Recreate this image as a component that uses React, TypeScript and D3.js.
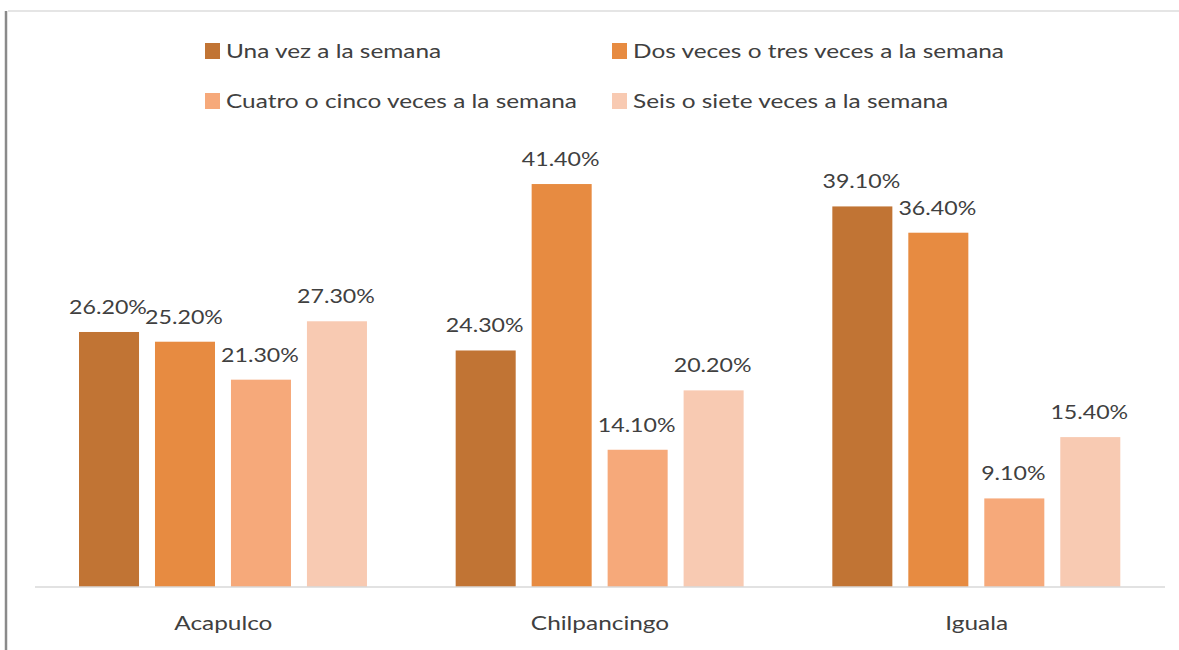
import React from 'react';
import * as d3 from 'd3';

const WIDTH = 1179;
const HEIGHT = 650;

const CATEGORIES = ['Acapulco', 'Chilpancingo', 'Iguala'];
const SERIES = [
  'Una vez a la semana',
  'Dos veces o tres veces a la semana',
  'Cuatro o cinco veces a la semana',
  'Seis o siete veces a la semana',
];
const UNA_VEZ = [26.2, 24.3, 39.1];
const DOS_TRES = [25.2, 41.4, 36.4];
const CUATRO_CINCO = [21.3, 14.1, 9.1];
const SEIS_SIETE = [27.3, 20.2, 15.4];
const COLORS = ['#c17434', '#e78b41', '#f6a97a', '#f8cab2'];

const VALUES = [UNA_VEZ, DOS_TRES, CUATRO_CINCO, SEIS_SIETE];

const FONT = 'Lato, "Open Sans", sans-serif';
const TEXT = '#404040';
const SX = 1.22; // the reference text looks stretched sideways

const BASE = 587;

export default function App() {
  const x0 = d3.scaleBand<string>().domain(CATEGORIES).range([35, 1165]);
  const x1 = d3
    .scaleBand<string>()
    .domain(SERIES)
    .range([44, x0.bandwidth() - 44.7])
    .paddingInner(0.21);
  const y = d3.scaleLinear().domain([0, 45]).range([BASE, 149]);

  const legendPos = [
    [205, 43],
    [612, 43],
    [205, 93],
    [612, 93],
  ];

  return (
    <svg
      width={WIDTH}
      height={HEIGHT}
      style={{ position: 'absolute', left: 0, top: 0, background: '#fff' }}
      fontFamily={FONT}
    >
      <line x1={8} x2={WIDTH} y1={11} y2={11} stroke="#dcdcdc" strokeWidth={1.5} />
      <line x1={6} x2={6} y1={11} y2={HEIGHT} stroke="#8a8a8a" strokeWidth={2.5} />

      {/* legend */}
      {SERIES.map((s, i) => (
        <g key={s}>
          <rect x={legendPos[i][0]} y={legendPos[i][1]} width={15} height={16} fill={COLORS[i]} />
          <g transform={`translate(${legendPos[i][0] + 21},${legendPos[i][1] + 15}) scale(${SX},1)`}>
            <text fontSize={20} fill={TEXT}>
              {s}
            </text>
          </g>
        </g>
      ))}

      {/* bars */}
      {CATEGORIES.map((c, ci) => (
        <g key={c} transform={`translate(${x0(c)},0)`}>
          {SERIES.map((s, si) => {
            const v = VALUES[si][ci];
            const bx = x1(s) as number;
            return (
              <g key={s}>
                <rect x={bx} y={y(v)} width={x1.bandwidth()} height={BASE - y(v)} fill={COLORS[si]} />
                <g transform={`translate(${bx + x1.bandwidth() / 2 - 1},${y(v) - 18}) scale(${SX},1)`}>
                  <text fontSize={19} fill={TEXT} textAnchor="middle">
                    {v.toFixed(2) + '%'}
                  </text>
                </g>
              </g>
            );
          })}
          <g transform={`translate(${x0.bandwidth() / 2},630) scale(${SX},1)`}>
            <text fontSize={20} fill={TEXT} textAnchor="middle">
              {c}
            </text>
          </g>
        </g>
      ))}

      <line x1={35} x2={1165} y1={BASE} y2={BASE} stroke="#d9d9d9" strokeWidth={1.5} />
    </svg>
  );
}
